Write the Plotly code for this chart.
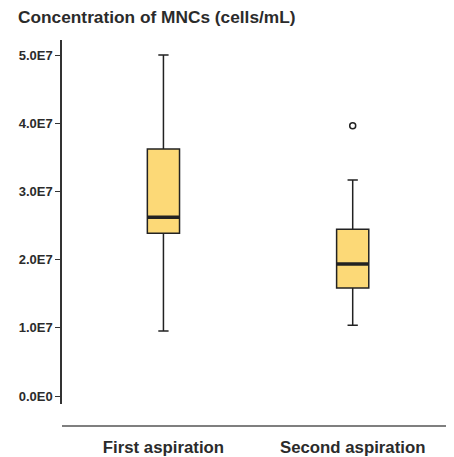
import plotly.graph_objects as go

categories = ["First aspiration", "Second aspiration"]
lower_whisker = [0.953e7, 1.037e7]
q1 = [2.385e7, 1.584e7]
median = [2.62e7, 1.935e7]
q3 = [3.62e7, 2.444e7]
upper_whisker = [5.0e7, 3.167e7]
outlier_cat = ["Second aspiration"]
outlier_val = [3.963e7]

ytick_vals = [0, 1e7, 2e7, 3e7, 4e7, 5e7]
ytick_text = ["0.0E0", "1.0E7", "2.0E7", "3.0E7", "4.0E7", "5.0E7"]

FONT = "Liberation Sans, Arial, sans-serif"
TXT = "#2b2b2b"
BOXW = 0.17

fig = go.Figure()
fig.add_trace(go.Box(
    x=categories, q1=q1, median=median, q3=q3,
    lowerfence=lower_whisker, upperfence=upper_whisker,
    fillcolor="#fcd977", line=dict(color="#222222", width=1.5),
    width=BOXW, whiskerwidth=0.32, boxpoints=False, showlegend=False,
))
# thicker median lines
for i, m in enumerate(median):
    fig.add_shape(type="line", xref="x", yref="y",
                  x0=i - BOXW / 2, x1=i + BOXW / 2, y0=m, y1=m,
                  line=dict(color="#222222", width=3.5))
fig.add_trace(go.Scatter(
    x=outlier_cat, y=outlier_val, mode="markers",
    marker=dict(symbol="circle-open", size=6, color="#222222", line=dict(width=1.5)),
    showlegend=False,
))

fig.add_shape(type="line", xref="paper", yref="paper",
              x0=0, x1=1, y0=-0.0604, y1=-0.0604,
              line=dict(color="#555555", width=1.5))

fig.add_annotation(text="Concentration of MNCs (cells/mL)", xref="paper", yref="paper",
                   x=-0.117, y=1.063, xanchor="left", yanchor="middle", showarrow=False,
                   font=dict(family=FONT, size=17.3, color=TXT, weight="bold"))

fig.update_layout(
    width=446, height=449,
    margin=dict(l=54, r=1, t=32, b=53),
    plot_bgcolor="white", paper_bgcolor="white",
    font=dict(family=FONT, color=TXT),
    xaxis=dict(type="category", range=[-0.536, 1.53], showline=False, showgrid=False,
               zeroline=False, ticks="", ticklabelstandoff=31,
               tickfont=dict(size=16.8, color=TXT, weight="bold")),
    yaxis=dict(range=[-0.117e7, 5.22e7], showline=True, linecolor="#333333", linewidth=1.5,
               showgrid=False, zeroline=False, ticks="outside", ticklen=5, tickwidth=1,
               tickcolor="#333333", tickvals=ytick_vals, ticktext=ytick_text,
               tickfont=dict(size=13, color=TXT, weight="bold")),
)

fig.write_html("out.html")
